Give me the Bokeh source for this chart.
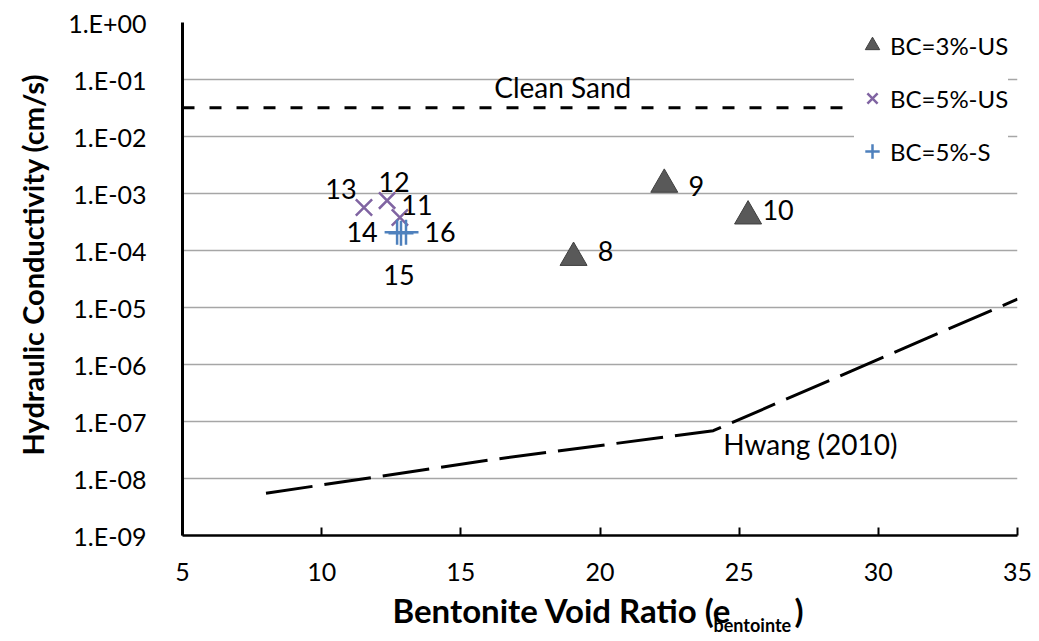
from bokeh.plotting import figure
from bokeh.models import (ColumnDataSource, Legend, LegendItem, FixedTicker,
                          CustomJSTickFormatter, Title)
from bokeh.embed import file_html
from bokeh.resources import INLINE
from bokeh.core.properties import value

# ---------------- data ----------------
bc3_ids = ["8", "9", "10"]
bc3_e = [19.05, 22.31, 25.32]
bc3_k = [7.5e-5, 1.44e-3, 4.0e-4]

bc5us_ids = ["11", "12", "13"]
bc5us_e = [12.81, 12.35, 11.52]
bc5us_k = [3.8e-4, 7.5e-4, 5.7e-4]

bc5s_ids = ["14", "15", "16"]
bc5s_e = [12.71, 12.85, 13.03]
bc5s_k = [2.1e-4, 2.0e-4, 2.1e-4]

clean_sand_e = [5.0, 35.0]
clean_sand_k = [3.2e-2, 3.2e-2]

hwang_e = [8.0, 16.0, 24.07, 35.0]
hwang_k = [5.5e-9, 2.1e-8, 6.9e-8, 1.4e-5]

x_ticks = [5, 10, 15, 20, 25, 30, 35]
y_ticks = [1e0, 1e-1, 1e-2, 1e-3, 1e-4, 1e-5, 1e-6, 1e-7, 1e-8, 1e-9]

# label offsets (screen px) for point labels
bc3_dx = [32, 32, 30]
bc3_dy = [-7, 2, -6]
bc5us_dx = [17, 7, -23]
bc5us_dy = [-12, -19, -18]
bc5s_dx = [-35, -2, 34]
bc5s_dy = [0, 42, 0]

FONT = "Lato"

p = figure(width=1039, height=641, x_range=(5, 35), y_range=(1e-9, 1),
           y_axis_type="log", output_backend="svg", toolbar_location=None,
           min_border_left=180, min_border_right=22, min_border_top=22,
           min_border_bottom=106)
p.outline_line_color = None
p.background_fill_color = "white"
p.border_fill_color = "white"

p.xgrid.visible = False
p.ygrid.ticker = FixedTicker(ticks=y_ticks)
p.ygrid.grid_line_color = "#A6A6A6"
p.ygrid.grid_line_width = 1.5
p.ygrid.minor_grid_line_color = None

# y axis
p.yaxis.ticker = FixedTicker(ticks=y_ticks)
p.yaxis.formatter = CustomJSTickFormatter(code="""
const e = Math.round(Math.log10(tick));
const s = Math.abs(e).toString().padStart(2, '0');
return "1.E" + (e < 0 ? "-" : "+") + s;
""")
p.yaxis.major_tick_line_color = None
p.yaxis.minor_tick_line_color = None
p.yaxis.axis_line_width = 3
p.yaxis.axis_line_color = "black"
p.yaxis.major_label_standoff = 30
p.yaxis.major_label_text_font = FONT
p.yaxis.major_label_text_font_size = "25px"
p.yaxis.major_label_text_color = "black"

# x axis
p.xaxis.ticker = FixedTicker(ticks=x_ticks)
p.xaxis.major_tick_in = 8
p.xaxis.major_tick_out = 0
p.xaxis.major_tick_line_width = 2
p.xaxis.major_tick_line_color = "black"
p.xaxis.minor_tick_line_color = None
p.xaxis.axis_line_width = 2.5
p.xaxis.axis_line_color = "black"
p.xaxis.major_label_standoff = 27
p.xaxis.major_label_text_font = FONT
p.xaxis.major_label_text_font_size = "25px"
p.xaxis.major_label_text_color = "black"

# axis titles
TITLE_KW = dict(text_font=FONT, text_font_style="bold", text_color="black")
p.add_layout(Title(text="Hydraulic Conductivity (cm/s)", align="left", offset=80,
                   vertical_align="top", standoff=28, text_font_size="29px",
                   **TITLE_KW), "left")
p.add_layout(Title(text="Bentonite Void Ratio (e", align="left", offset=210,
                   standoff=8, text_font_size="33px", **TITLE_KW), "below")
p.add_layout(Title(text="bentointe", align="left", offset=531, vertical_align="top",
                   standoff=-40, text_font_size="18px", **TITLE_KW), "below")
p.add_layout(Title(text=")", align="left", offset=612, vertical_align="top",
                   standoff=-87, text_font_size="33px", **TITLE_KW), "below")

# lines
p.line(clean_sand_e, clean_sand_k, line_color="black", line_width=3, line_dash="12 15")
p.line(hwang_e, hwang_k, line_color="black", line_width=3, line_dash="47 12")

# points
src3 = ColumnDataSource(dict(x=bc3_e, y=bc3_k, t=bc3_ids, dx=bc3_dx, dy=bc3_dy))
src5 = ColumnDataSource(dict(x=bc5us_e, y=bc5us_k, t=bc5us_ids, dx=bc5us_dx, dy=bc5us_dy))
src5s = ColumnDataSource(dict(x=bc5s_e, y=bc5s_k, t=bc5s_ids, dx=bc5s_dx, dy=bc5s_dy))

r3 = p.scatter("x", "y", source=src3, marker="triangle", size=27,
               fill_color="#595959", line_color="#3F3F3F", line_width=1)
r5 = p.scatter("x", "y", source=src5, marker="x", size=23,
               line_color="#8064A2", line_width=2.5)
r5s = p.scatter("x", "y", source=src5s, marker="cross", size=25,
                line_color="#4F81BD", line_width=2.5)

for s in (src3, src5, src5s):
    p.text("x", "y", text="t", source=s, x_offset="dx", y_offset="dy",
           text_align="center", text_baseline="middle",
           text_font=value(FONT), text_font_size="27px", text_color="black")

# line annotations
p.text(x=[18.66], y=[clean_sand_k[0]], text=["Clean Sand"], x_offset=[0], y_offset=[-21],
       text_align="center", text_baseline="middle", text_font=value(FONT),
       text_font_size="28px", text_color="black")
p.text(x=[hwang_e[2]], y=[hwang_k[2]], text=["Hwang (2010)"], x_offset=[10], y_offset=[13],
       text_align="left", text_baseline="middle", text_font=value(FONT),
       text_font_size="28px", text_color="black")

legend = Legend(items=[
    LegendItem(label="BC=3%-US", renderers=[r3]),
    LegendItem(label="BC=5%-US", renderers=[r5]),
    LegendItem(label="BC=5%-S", renderers=[r5s]),
], location=(672, 366))
legend.glyph_width = 36
legend.glyph_height = 36
legend.label_height = 36
legend.spacing = 17
legend.label_standoff = 0
legend.padding = 10
legend.margin = 0
legend.border_line_color = None
legend.background_fill_color = "white"
legend.background_fill_alpha = 1.0
legend.label_text_font = FONT
legend.label_text_font_size = "24px"
legend.label_text_color = "black"
p.add_layout(legend, "center")

open("out.html", "w").write(file_html(p, INLINE))
